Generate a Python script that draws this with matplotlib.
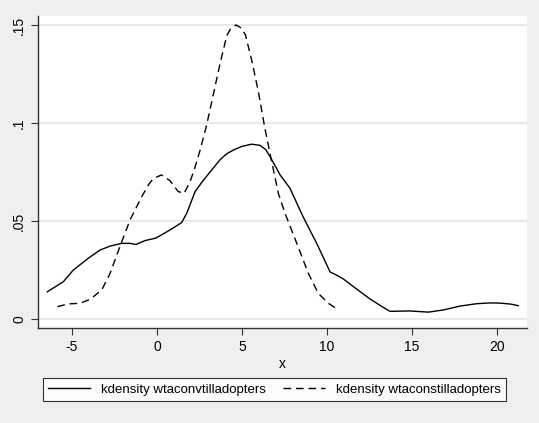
import matplotlib.pyplot as plt

plt.rcParams['font.family'] = ['Liberation Sans', 'DejaVu Sans']

# kdensity wtaconvtilladopters (solid)
conv_x = [-6.45, -5.51, -4.92, -4.04, -3.35, -2.76, -2.08, -1.59, -1.24, -0.71,
          -0.06, 0.76, 1.45, 1.75, 2.24, 2.7, 3.1, 3.7, 4.1, 4.49, 5.0, 5.57, 6.06,
          6.4, 6.65, 7.24, 7.82, 8.6, 9.39, 10.18, 10.6, 10.96, 11.75, 12.53, 13.2,
          13.7, 14.3, 14.88, 15.96, 16.84, 17.82, 18.8, 19.6, 20.18, 20.8, 21.25]
conv_y = [0.0139, 0.019, 0.025, 0.031, 0.0352, 0.0372, 0.0386, 0.0386, 0.038, 0.040,
          0.0413, 0.0454, 0.0492, 0.054, 0.065, 0.0705, 0.0748, 0.0812, 0.0843, 0.0862,
          0.0881, 0.0892, 0.0886, 0.0864, 0.0828, 0.0735, 0.0667, 0.052, 0.0386, 0.024,
          0.0222, 0.0204, 0.0152, 0.0102, 0.0065, 0.0039, 0.0040, 0.0041, 0.0035, 0.0046,
          0.0066, 0.0078, 0.0082, 0.0081, 0.0076, 0.0068]

# kdensity wtaconstilladopters (dashed)
cons_x = [-5.86, -5.22, -4.53, -3.94, -3.25, -2.76, -2.18, -1.59, -0.9, -0.5, -0.22,
          0.27, 0.76, 1.25, 1.59, 1.94, 2.2, 2.53, 2.92, 3.31, 3.7, 4.1, 4.35, 4.65,
          4.95, 5.2, 5.57, 5.96, 6.35, 6.75, 7.14, 7.53, 8.22, 8.9, 9.49, 10.08, 10.67]
cons_y = [0.0063, 0.0077, 0.008, 0.010, 0.0148, 0.0233, 0.037, 0.0505, 0.0624, 0.0685,
          0.0717, 0.0735, 0.0706, 0.065, 0.0641, 0.070, 0.0765, 0.086, 0.099, 0.1145,
          0.130, 0.1445, 0.1485, 0.150, 0.1485, 0.145, 0.132, 0.116, 0.097, 0.080,
          0.064, 0.0539, 0.0386, 0.0233, 0.013, 0.008, 0.0046]

x_ticks = [-5, 0, 5, 10, 15, 20]
y_ticks = [0, 0.05, 0.1, 0.15]
y_labels = ['0', '.05', '.1', '.15']

bg = '#efefef'
fig = plt.figure(figsize=(5.39, 4.23), dpi=100, facecolor=bg)
ax = fig.add_axes([38 / 539, 95 / 423, 489 / 539, 312 / 423])
ax.set_facecolor('white')

ax.plot(conv_x, conv_y, color='black', lw=1.0, label='kdensity wtaconvtilladopters')
ax.plot(cons_x, cons_y, color='black', lw=1.0, dashes=(5.5, 3.5),
        label='kdensity wtaconstilladopters')

ax.set_xlim(-7.0, 21.76)
ax.set_ylim(-0.0046, 0.1546)
ax.set_xticks(x_ticks)
ax.set_xticklabels([str(t) for t in x_ticks])
ax.set_yticks(y_ticks)
ax.set_yticklabels(y_labels, rotation=90, va='center')
ax.tick_params(direction='out', length=5, width=0.8, labelsize=10, color='#333333')
ax.grid(axis='y', color='#e6e6e6', lw=1.3)
ax.set_axisbelow(True)
for s in ['top', 'right']:
    ax.spines[s].set_visible(False)
for s in ['left', 'bottom']:
    ax.spines[s].set_color('#333333')
    ax.spines[s].set_linewidth(1.0)
ax.set_xlabel('x', fontsize=10, labelpad=2)

leg = fig.legend(loc='center', bbox_to_anchor=(274.5 / 539, 1 - 389.5 / 423),
                 ncol=2, fontsize=9.5, frameon=True, fancybox=False,
                 handlelength=3.2, handletextpad=0.8, columnspacing=1.3,
                 borderpad=0.4)
leg.get_frame().set_edgecolor('black')
leg.get_frame().set_linewidth(0.8)

fig.savefig('out.png', dpi=100, facecolor=bg)
